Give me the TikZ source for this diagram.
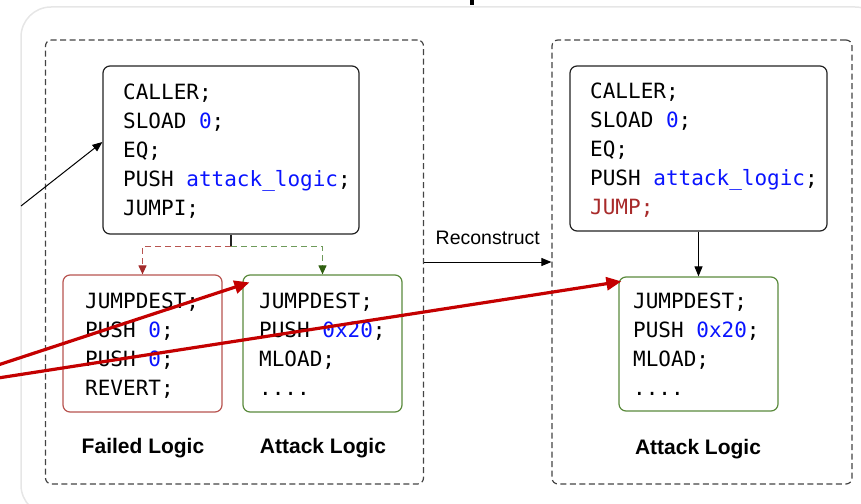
\documentclass[tikz,border=0pt]{standalone}
\usepackage{fontspec}
\setmainfont{Liberation Sans}
\setmonofont{DejaVu Sans Mono}
\usetikzlibrary{arrows.meta,calc}

\definecolor{framegray}{HTML}{E6E6E6}
\definecolor{dashgray}{HTML}{444444}
\definecolor{boxline}{HTML}{222222}
\definecolor{failline}{HTML}{B85450}
\definecolor{failarrow}{HTML}{A32A2A}
\definecolor{attline}{HTML}{5A8A3C}
\definecolor{attdash}{HTML}{6F9A5A}
\definecolor{attarrow}{HTML}{2F5F10}
\definecolor{codeblue}{HTML}{0A14FF}
\definecolor{codered}{HTML}{A82A2A}
\definecolor{hotred}{HTML}{C40000}

\newcommand{\lit}[1]{\textcolor{codeblue}{#1}}

\begin{document}
\begin{tikzpicture}[x=1pt,y=-1pt,
  container/.style={draw=dashgray, line width=1.2pt, dash pattern=on 6pt off 3.5pt,
    rounded corners=6pt, inner sep=0pt},
  codebox/.style={draw=boxline, line width=1.2pt, rounded corners=7pt, inner sep=0pt, fill=white},
  failbox/.style={draw=failline, line width=1.2pt, rounded corners=7pt, inner sep=0pt, fill=white,
    minimum width=159pt, minimum height=137pt},
  attbox/.style={draw=attline, line width=1.2pt, rounded corners=7pt, inner sep=0pt, fill=white,
    minimum width=159pt, minimum height=137pt},
  codetext/.style={anchor=north west, inner sep=0pt, align=left,
    font=\ttfamily\fontsize{21}{29}\selectfont},
  caption/.style={font=\bfseries\fontsize{21}{24}\selectfont, inner sep=0pt},
  thinarrow/.style={draw=black, line width=1pt, -{Triangle[length=10pt,width=8pt]}},
  hotarrow/.style={draw=hotred, line width=3.2pt, -{Triangle[length=15pt,width=13pt]}},
  faildash/.style={draw=failline, line width=1.1pt, dash pattern=on 6pt off 4pt,
    -{Triangle[length=9pt,width=8pt,color=failarrow,fill=failarrow]}},
  attdashed/.style={draw=attdash, line width=1.1pt, dash pattern=on 6pt off 4pt,
    -{Triangle[length=9pt,width=8pt,color=attarrow,fill=attarrow]}},
]
\useasboundingbox (0,0) rectangle (861,503);
\clip (0,0) rectangle (861,503);

% outer frame and the tail of the heading above it
\draw[framegray, line width=1.5pt, rounded corners=30pt] (21,7) rectangle (885,515);
\fill[black] (470,0) rectangle (474,5);

% dashed groups
\node[container, minimum width=378pt, minimum height=444pt] (lc) at (234.5,262) {};
\node[container, minimum width=300pt, minimum height=444pt] (rc) at (702,262) {};

% original dispatcher
\node[codebox, minimum width=256pt, minimum height=168pt] (cl) at (231,150) {};
\node[codetext] (clt) at (123,84)
  {CALLER;\\SLOAD \lit{0};\\EQ;\\PUSH \lit{attack\_logic};\\JUMPI;};

% branch targets
\node[failbox] (fail) at (142.5,343.5) {};
\node[codetext] (failt) at (85,292.5)
  {JUMPDEST;\\PUSH \lit{0};\\PUSH \lit{0};\\REVERT;};
\node[attbox] (att) at (322.5,343.5) {};
\node[codetext] (attt) at (259,292.5)
  {JUMPDEST;\\PUSH \lit{0x20};\\MLOAD;\\....};

\node[caption] (failcap) at (143,448) {Failed Logic};
\node[caption] (attcap) at (323,448) {Attack Logic};

% reconstructed dispatcher
\node[codebox, minimum width=257pt, minimum height=165pt] (rcl) at (698.5,148.5) {};
\node[codetext] (rclt) at (590,83)
  {CALLER;\\SLOAD \lit{0};\\EQ;\\PUSH \lit{attack\_logic};\\\textcolor{codered}{JUMP;}};
\node[attbox, minimum height=134pt] (ratt) at (698.5,344) {};
\node[codetext] (rattt) at (633,292.5)
  {JUMPDEST;\\PUSH \lit{0x20};\\MLOAD;\\....};
\node[caption] (rattcap) at (698,449) {Attack Logic};

% connectors
\draw[boxline, line width=1.2pt] (cl.south) -- ++(0,12) coordinate (split);
\draw[faildash] (split) -| (fail.north);
\draw[attdashed] (split) -| (att.north);
\draw[thinarrow] (rcl.south) -- (ratt.north);

\draw[thinarrow] (lc.east) -- node[above=17pt, font=\fontsize{19.5}{22}\selectfont, inner sep=0pt] (rec) {Reconstruct} (rc.west);

\coordinate (inA) at (21,206);
\draw[thinarrow] (inA) -- ([yshift=8pt]cl.west);

\coordinate (inB) at (-2,365);
\coordinate (inC) at (-2,378);
\draw[hotarrow] (inB) -- ($(att.north west)+(7,8)$);
\draw[hotarrow] (inC) -- ($(ratt.north west)+(3,5)$);
\end{tikzpicture}
\end{document}
